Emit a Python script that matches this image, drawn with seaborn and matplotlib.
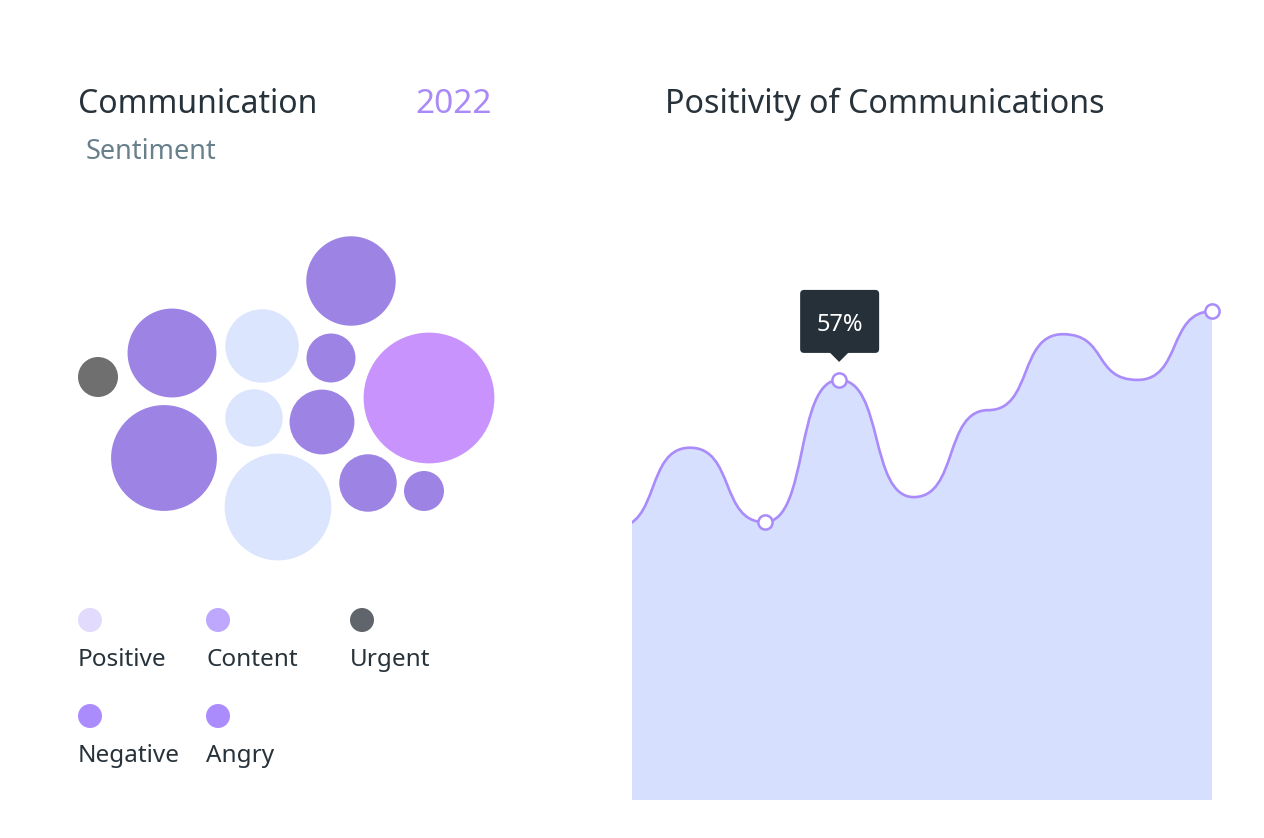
import numpy as np
import pandas as pd
import matplotlib
matplotlib.use("Agg")
import matplotlib.pyplot as plt
from matplotlib.path import Path
from matplotlib.patches import PathPatch, FancyBboxPatch, Polygon
import seaborn as sns

# --- sentiment bubbles ---
bubble_cats = ["Urgent", "Negative", "Negative", "Positive", "Positive", "Positive",
               "Content", "Content", "Negative", "Angry", "Negative", "Content"]
bubble_vals = [16, 79, 112, 54, 33, 114, 80, 24, 42, 171, 33, 16]
# packed layout of the bubbles (pixels)
bubble_x = [98, 172, 164, 262, 254, 278, 351, 331, 322, 429, 368, 424]
bubble_y = [377, 353, 458, 346, 418, 507, 281, 358, 422, 398, 483, 491]

legend_labels = ["Positive", "Content", "Urgent", "Negative", "Angry"]
legend_colors = ["#e2dbfe", "#bea8fd", "#5f656b", "#ab8cfd", "#ab8cfd"]

# --- positivity over time (%) ---
positivity = [37, 47.8, 37.7, 57, 41.1, 52.9, 63.2, 57, 66.3]
highlight = [2, 3, 8]
tooltip_idx = 3

bubble_pal = {"Positive": "#dce5fe", "Content": "#9c83e4", "Negative": "#9c83e4",
              "Angry": "#c893fd", "Urgent": "#6f6f6f"}
line_col = "#a98bfa"
fill_col = "#d7dffe"
dark = "#27323a"

sns.set_style("white")
plt.rcParams["font.family"] = ["Noto Sans", "DejaVu Sans"]

W, H, DPI = 1264, 838, 100
fig = plt.figure(figsize=(W / DPI, H / DPI), dpi=DPI)

# overlay axis in pixel units for the left panel and titles
ax0 = fig.add_axes([0, 0, 1, 1])
ax0.set_xlim(0, W)
ax0.set_ylim(H, 0)
ax0.axis("off")

bubbles = pd.DataFrame({"x": bubble_x, "y": bubble_y, "cat": bubble_cats, "val": bubble_vals})
bubbles["r"] = 5 * np.sqrt(bubbles["val"])
sizes = (2 * bubbles["r"] * 72 / DPI) ** 2
sns.scatterplot(data=bubbles, x="x", y="y", hue="cat", palette=bubble_pal,
                s=sizes.values, linewidth=0, legend=False, ax=ax0)

# legend grid
col_left = [78, 206, 350]
row_y = [620, 716]
leg = pd.DataFrame({
    "label": legend_labels,
    "x": [col_left[i % 3] + 12 for i in range(len(legend_labels))],
    "y": [row_y[i // 3] for i in range(len(legend_labels))],
})
sns.scatterplot(data=leg, x="x", y="y", hue="label", palette=dict(zip(legend_labels, legend_colors)),
                s=(24 * 72 / DPI) ** 2, linewidth=0, legend=False, ax=ax0)
for _, row in leg.iterrows():
    ax0.text(row["x"] - 12, row["y"] + 46, row["label"], fontsize=17.5, color=dark, va="baseline")

ax0.text(78, 113, "Communication", fontsize=23, color=dark, va="baseline")
ax0.text(415, 113, "2022", fontsize=24, color="#a98af7", va="baseline")
ax0.text(86, 159, "Sentiment", fontsize=19.5, color="#687f8c", va="baseline")
ax0.text(665, 113, "Positivity of Communications", fontsize=23.2, color=dark, va="baseline")

# right panel: area chart
ax1 = fig.add_axes([632 / W, 38 / H, 580 / W, 737 / H])
n = len(positivity)
ax1.set_xlim(1 - 58 / 74.57, n - 1)
ax1.set_ylim(0, 100)
ax1.axis("off")

k = 0.6
verts = [(0, positivity[0])]
codes = [Path.MOVETO]
for i in range(n - 1):
    y0, y1 = positivity[i], positivity[i + 1]
    verts += [(i + k, y0), (i + 1 - k, y1), (i + 1, y1)]
    codes += [Path.CURVE4] * 3
line_path = Path(verts, codes)
fill_path = Path([(0, 0)] + verts + [(n - 1, 0), (0, 0)],
                 [Path.MOVETO, Path.LINETO] + codes[1:] + [Path.LINETO, Path.CLOSEPOLY])
ax1.add_patch(PathPatch(fill_path, facecolor=fill_col, edgecolor="none", zorder=1))
ax1.add_patch(PathPatch(line_path, facecolor="none", edgecolor=line_col, lw=1.9, zorder=2))

pts = pd.DataFrame({"x": highlight, "y": [positivity[i] for i in highlight]})
sns.scatterplot(data=pts, x="x", y="y", s=105, color="white", edgecolor=line_col,
                linewidth=1.8, zorder=5, clip_on=False, ax=ax1)

# tooltip
px, py = ax0.transData.inverted().transform(
    ax1.transData.transform((tooltip_idx, positivity[tooltip_idx])))
ax0.add_patch(FancyBboxPatch((px - 39, py - 90), 79, 63,
                             boxstyle="round,pad=0,rounding_size=4",
                             facecolor="#263038", edgecolor="none", zorder=6))
ax0.add_patch(Polygon([(px - 10, py - 28), (px + 10, py - 28), (px, py - 18)],
                      closed=True, facecolor="#263038", edgecolor="none", zorder=6))
ax0.text(px + 1, py - 49, f"{positivity[tooltip_idx]:.0f}%", fontsize=17, color="white",
         ha="center", va="baseline", zorder=7)

fig.savefig("out.png", dpi=DPI)
